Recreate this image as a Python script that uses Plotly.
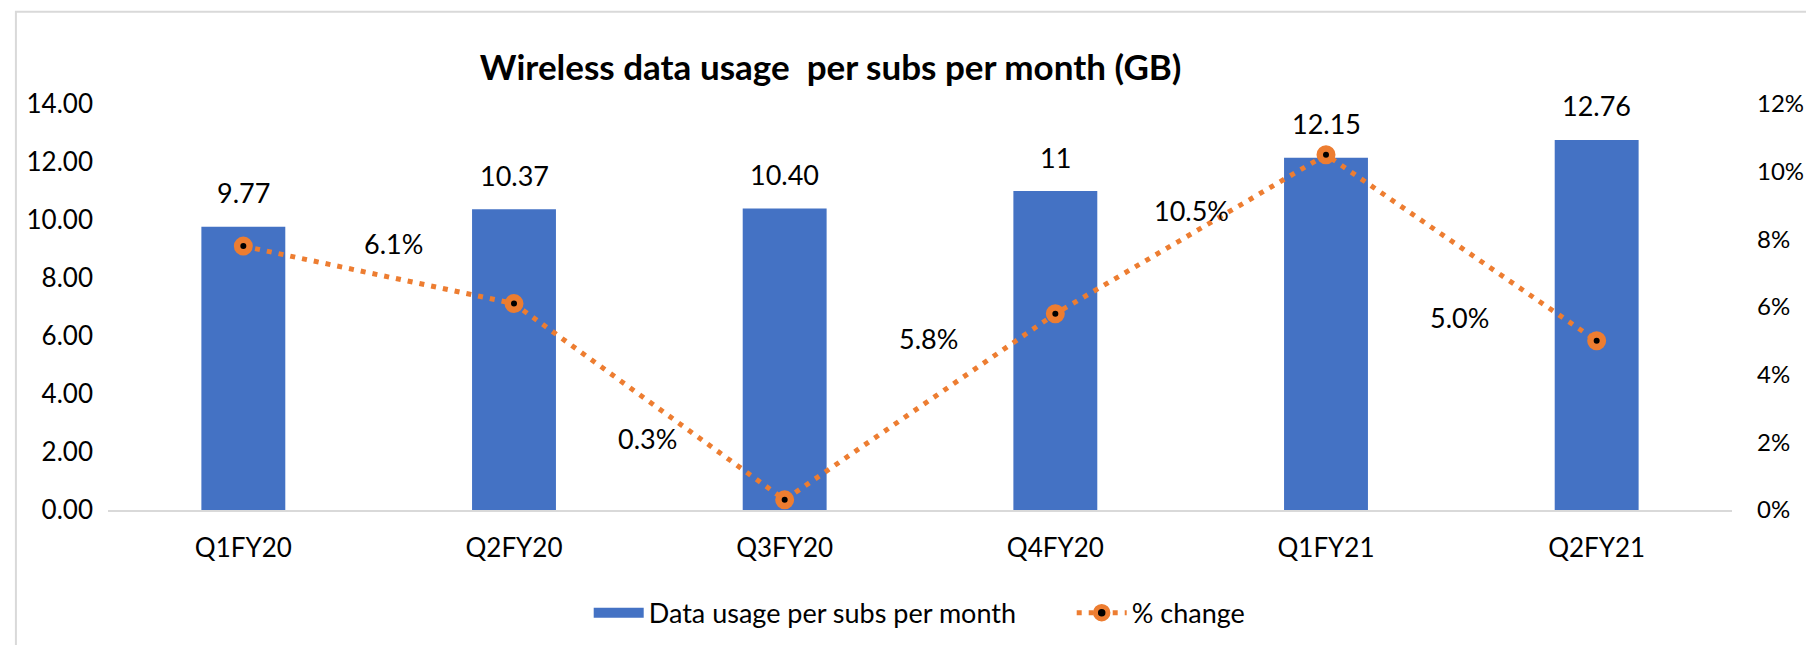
import plotly.graph_objects as go

categories = ["Q1FY20", "Q2FY20", "Q3FY20", "Q4FY20", "Q1FY21", "Q2FY21"]
usage_gb = [9.77, 10.37, 10.40, 11.0, 12.15, 12.76]
usage_labels = ["9.77", "10.37", "10.40", "11", "12.15", "12.76"]
pct_change = [0.078, 0.061, 0.003, 0.058, 0.105, 0.050]
pct_labels = ["", "6.1%", "0.3%", "5.8%", "10.5%", "5.0%"]
# pixel offsets of the % labels relative to their points (style)
pct_label_dx = [0, -121, -137, -127, -135, -137]
pct_label_dy = [0, 60, 61, -25, -56, 23]

FONT = "Lato"
BLUE = "#4472C4"
ORANGE = "#ED7D31"
FS = 26

fig = go.Figure()
fig.add_trace(go.Bar(
    x=categories, y=usage_gb, name="Data usage per subs per month",
    marker=dict(color=BLUE, line=dict(width=0)), width=0.31, yaxis="y",
    showlegend=False,
))
# legend swatch for the bars (wide rectangle like the original)
fig.add_trace(go.Scatter(
    x=[None], y=[None], mode="lines", name="Data usage per subs per month",
    line=dict(color=BLUE, width=20), showlegend=True,
))
fig.add_trace(go.Scatter(
    x=categories, y=pct_change, name="% change", yaxis="y2",
    mode="lines+markers",
    line=dict(color=ORANGE, width=5, dash="5px,7px"),
    marker=dict(color="black", size=12.5, line=dict(color=ORANGE, width=6.5)),
))

annotations = []
for c, v, t in zip(categories, usage_gb, usage_labels):
    annotations.append(dict(x=c, y=v, xref="x", yref="y", text=t, showarrow=False,
                            yshift=34, font=dict(family=FONT, size=27, color="black")))
for c, v, t, dx, dy in zip(categories, pct_change, pct_labels, pct_label_dx, pct_label_dy):
    if t:
        annotations.append(dict(x=c, y=v, xref="x", yref="y2", text=t, showarrow=False,
                                xshift=dx, yshift=dy, font=dict(family=FONT, size=27, color="black")))

fig.update_layout(
    width=1814, height=645,
    margin=dict(l=100, r=90, t=96, b=143),
    paper_bgcolor="white", plot_bgcolor="white",
    font=dict(family=FONT, size=FS, color="black"),
    title=dict(text="<b>Wireless data usage  per subs per month (GB)</b>",
               x=0.4535, xanchor="center", y=0.908, yanchor="middle",
               font=dict(family=FONT, size=35, color="black")),
    xaxis=dict(showgrid=False, showline=True, linecolor="#D9D9D9", linewidth=2,
               ticks="", tickfont=dict(size=FS), ticklabelstandoff=14),
    yaxis=dict(range=[0, 14], dtick=2, tickformat=".2f", showgrid=False, zeroline=False,
               showline=False, ticks="", tickfont=dict(size=FS), ticklabelstandoff=14),
    yaxis2=dict(range=[0, 0.12], dtick=0.02, tickformat=".0%", overlaying="y", side="right",
                showgrid=False, zeroline=False, showline=False, ticks="",
                tickfont=dict(size=24), ticklabelstandoff=24),
    legend=dict(orientation="h", x=0.296, xanchor="left", y=-0.254, yanchor="middle",
                font=dict(size=27), itemwidth=50,
                entrywidth=418, entrywidthmode="pixels"),
    annotations=annotations,
    shapes=[dict(type="rect", xref="paper", yref="paper", x0=-0.0567, x1=1.5, y0=-1.0, y1=1.227,
                 line=dict(color="#D9D9D9", width=2), layer="below")],
)

fig.write_html("out.html")
